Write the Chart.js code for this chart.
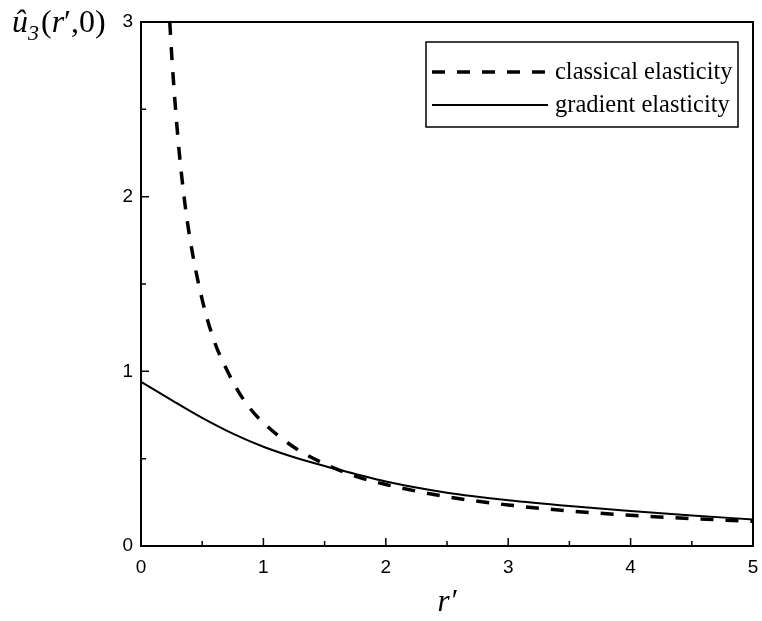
<!DOCTYPE html>
<html>
<head>
<meta charset="utf-8">
<script src="https://cdn.jsdelivr.net/npm/chart.js@4/dist/chart.umd.min.js"></script>
<style>
  html, body { margin: 0; padding: 0; background: #fff; }
  #wrap { width: 762px; height: 621px; }
</style>
</head>
<body>
<div id="wrap"><canvas id="grafica" width="762" height="621"></canvas></div>
<script>
// datos
const rClasica = [0.235, 0.25, 0.3, 0.35, 0.4, 0.5, 0.6, 0.7, 0.8, 0.9, 1.0, 1.25, 1.5, 1.75, 2.0, 2.5, 3.0, 3.5, 4.0, 4.5, 5.0];
const uClasica = [3.0, 2.82, 2.35, 2.01, 1.76, 1.41, 1.17, 1.01, 0.88, 0.78, 0.705, 0.565, 0.47, 0.40, 0.352, 0.282, 0.235, 0.201, 0.176, 0.157, 0.141];

const rGradiente = [0, 0.25, 0.5, 0.75, 1.0, 1.25, 1.5, 1.75, 2.0, 2.5, 3.0, 3.5, 4.0, 4.5, 5.0];
const uGradiente = [0.94, 0.835, 0.733, 0.643, 0.568, 0.508, 0.458, 0.413, 0.369, 0.305, 0.262, 0.229, 0.201, 0.175, 0.152];

const etiquetas = ['classical elasticity', 'gradient elasticity'];
const ticksX = [0, 1, 2, 3, 4, 5];
const ticksXMenores = [0.5, 1.5, 2.5, 3.5, 4.5];
const ticksY = [0, 1, 2, 3];
const ticksYMenores = [0.5, 1.5, 2.5];

function aPuntos(xs, ys) {
    return xs.map((x, i) => ({ x: x, y: ys[i] }));
}

const serif = '"Liberation Serif", "Times New Roman", serif';

// marcas hacia dentro, marco y titulos
const marcoPlugin = {
    id: 'marco',
    afterDraw(chart) {
        const ctx = chart.ctx;
        const a = chart.chartArea;
        const sx = chart.scales.x;
        const sy = chart.scales.y;
        ctx.save();
        ctx.strokeStyle = '#000';
        ctx.lineWidth = 2;
        ctx.strokeRect(a.left, a.top, a.right - a.left, a.bottom - a.top);

        ctx.lineWidth = 1.5;
        ctx.beginPath();
        ticksX.forEach(v => {
            const px = sx.getPixelForValue(v);
            ctx.moveTo(px, a.bottom); ctx.lineTo(px, a.bottom - 8);
        });
        ticksXMenores.forEach(v => {
            const px = sx.getPixelForValue(v);
            ctx.moveTo(px, a.bottom); ctx.lineTo(px, a.bottom - 5);
        });
        ticksY.forEach(v => {
            const py = sy.getPixelForValue(v);
            ctx.moveTo(a.left, py); ctx.lineTo(a.left + 8, py);
        });
        ticksYMenores.forEach(v => {
            const py = sy.getPixelForValue(v);
            ctx.moveTo(a.left, py); ctx.lineTo(a.left + 5, py);
        });
        ctx.stroke();

        // titulo eje y: û3(r′,0)
        ctx.fillStyle = '#000';
        ctx.textBaseline = 'alphabetic';
        ctx.textAlign = 'left';
        let x = 12;
        const base = a.top + 10;
        ctx.font = 'italic 32px ' + serif;
        ctx.fillText('û', x, base);
        x += ctx.measureText('û').width;
        ctx.font = 'italic 22px ' + serif;
        ctx.fillText('3', x, base + 8);
        x += ctx.measureText('3').width + 2;
        ctx.font = '32px ' + serif;
        ctx.fillText('(', x, base);
        x += ctx.measureText('(').width;
        ctx.font = 'italic 32px ' + serif;
        ctx.fillText('r', x, base);
        x += ctx.measureText('r').width;
        ctx.font = '32px ' + serif;
        ctx.fillText('′,0)', x, base);

        // titulo eje x: r′
        ctx.font = 'italic 31px ' + serif;
        ctx.textAlign = 'center';
        ctx.fillText('r′', (a.left + a.right) / 2, 611);

        // leyenda
        const lx = 426, ly = 42, lw = 312, lh = 85;
        ctx.lineWidth = 1.5;
        ctx.strokeRect(lx, ly, lw, lh);
        ctx.font = '24.5px ' + serif;
        ctx.textAlign = 'left';
        ctx.textBaseline = 'middle';
        chart.data.datasets.forEach((ds, i) => {
            const yy = ly + 30 + i * 33;
            ctx.beginPath();
            ctx.lineWidth = ds.borderWidth;
            ctx.setLineDash(ds.borderDash || []);
            ctx.moveTo(432, yy);
            ctx.lineTo(548, yy);
            ctx.stroke();
            ctx.setLineDash([]);
            ctx.fillText(ds.label, 555, yy + 1);
        });
        ctx.restore();
    }
};

const ctx = document.getElementById('grafica').getContext('2d');

new Chart(ctx, {
    type: 'line',
    data: {
        datasets: [
            {
                label: etiquetas[0],
                data: aPuntos(rClasica, uClasica),
                borderColor: '#000',
                borderWidth: 3.5,
                borderDash: [13, 12],
                pointRadius: 0,
                cubicInterpolationMode: 'monotone',
                fill: false
            },
            {
                label: etiquetas[1],
                data: aPuntos(rGradiente, uGradiente),
                borderColor: '#000',
                borderWidth: 2,
                pointRadius: 0,
                cubicInterpolationMode: 'monotone',
                fill: false
            }
        ]
    },
    options: {
        responsive: false,
        animation: false,
        devicePixelRatio: 1,
        layout: { padding: { top: 22, right: 9, left: 0, bottom: 0 } },
        plugins: {
            legend: { display: false },
            tooltip: { enabled: false }
        },
        scales: {
            x: {
                type: 'linear',
                min: 0,
                max: 5,
                afterFit: s => { s.height = 75; s.paddingRight = 0; s.paddingLeft = 0; },
                afterBuildTicks: s => { s.ticks = ticksX.map(v => ({ value: v })); },
                grid: { display: false, drawTicks: false },
                border: { display: false },
                ticks: {
                    color: '#000',
                    padding: 10,
                    font: { family: '"Liberation Sans", Arial, sans-serif', size: 19 }
                }
            },
            y: {
                type: 'linear',
                min: 0,
                max: 3,
                afterFit: s => { s.width = 141; s.paddingTop = 0; s.paddingBottom = 0; },
                afterBuildTicks: s => { s.ticks = ticksY.map(v => ({ value: v })); },
                grid: { display: false, drawTicks: false },
                border: { display: false },
                ticks: {
                    color: '#000',
                    padding: 8,
                    font: { family: '"Liberation Sans", Arial, sans-serif', size: 19 }
                }
            }
        }
    },
    plugins: [marcoPlugin]
});
</script>
</body>
</html>
